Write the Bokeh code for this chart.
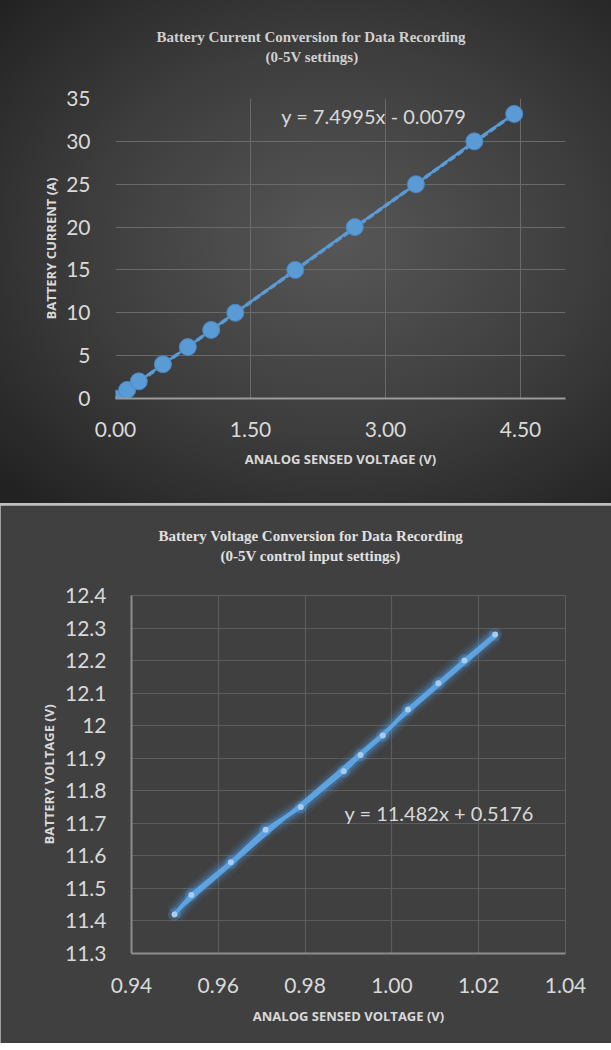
from bokeh.plotting import figure
from bokeh.models import FixedTicker, Label, Title
from bokeh.layouts import column
from bokeh.embed import file_html
from bokeh.resources import INLINE

# ---------------- data: top chart ----------------
cur_volts = [0.0, 0.129, 0.259, 0.527, 0.804, 1.063, 1.331, 1.997, 2.659, 3.338, 3.987, 4.43]
cur_amps = [0, 1, 2, 4, 6, 8, 10, 15, 20, 25, 30, 33.2]
cur_slope = 7.4995
cur_intercept = -0.0079
cur_eq_text = "y = 7.4995x - 0.0079"
cur_title = ["Battery Current Conversion for Data Recording", "(0-5V settings)"]
cur_x_ticks = [0.0, 1.5, 3.0, 4.5]
cur_x_labels = ["0.00", "1.50", "3.00", "4.50"]
cur_y_ticks = [0, 5, 10, 15, 20, 25, 30, 35]
cur_y_labels = ["0", "5", "10", "15", "20", "25", "30", "35"]

# ---------------- data: bottom chart ----------------
bat_sensed = [0.9499, 0.9538, 0.9629, 0.9709, 0.9790, 0.9889, 0.9928, 0.9979,
              1.0037, 1.0107, 1.0167, 1.0238]
bat_volts = [11.42, 11.48, 11.58, 11.68, 11.75, 11.86, 11.91, 11.97,
             12.05, 12.13, 12.20, 12.28]
bat_slope = 11.482
bat_intercept = 0.5176
bat_eq_text = "y = 11.482x + 0.5176"
bat_title = ["Battery Voltage Conversion for Data Recording", "(0-5V control input settings)"]
bat_x_ticks = [0.94, 0.96, 0.98, 1.00, 1.02, 1.04]
bat_x_labels = ["0.94", "0.96", "0.98", "1.00", "1.02", "1.04"]
bat_y_ticks = [11.3, 11.4, 11.5, 11.6, 11.7, 11.8, 11.9, 12.0, 12.1, 12.2, 12.3, 12.4]
bat_y_labels = ["11.3", "11.4", "11.5", "11.6", "11.7", "11.8", "11.9", "12",
                "12.1", "12.2", "12.3", "12.4"]

BLUE = "#5b9bd5"
TXT = "#d9d9d9"
TICK_FONT = "Lato"
AX_FONT = "Open Sans"
TITLE_FONT = "Liberation Serif"


def style_axes(p, xt, xl, yt, yl):
    p.xaxis.ticker = FixedTicker(ticks=xt)
    p.yaxis.ticker = FixedTicker(ticks=yt)
    p.xaxis.major_label_overrides = dict(zip(xt, xl))
    p.yaxis.major_label_overrides = dict(zip(yt, yl))
    p.xgrid.ticker = FixedTicker(ticks=xt)
    p.ygrid.ticker = FixedTicker(ticks=yt)
    for ax in (p.xaxis, p.yaxis):
        ax.major_tick_line_color = None
        ax.minor_tick_line_color = None
        ax.major_label_text_font = TICK_FONT
        ax.major_label_text_font_size = "21px"
        ax.major_label_text_color = TXT
        ax.axis_label_text_font = AX_FONT
        ax.axis_label_text_font_style = "bold"
        ax.axis_label_text_font_size = "13px"
        ax.axis_label_text_color = TXT
    p.outline_line_color = None


def add_title(p, lines, offsets, color, spacer_color, spacer_standoff):
    # blank spacer nearest the frame keeps the two title lines up top
    p.add_layout(Title(text=" ", standoff=spacer_standoff, text_font_size="10px",
                       text_color=spacer_color), "above")
    # then the lower title line, then the upper one
    for txt, off in zip(reversed(lines), reversed(offsets)):
        p.add_layout(Title(text=txt, align="left", offset=off, standoff=2,
                           text_font=TITLE_FONT, text_font_style="bold",
                           text_font_size="15px", text_color=color), "above")


# ================= top figure =================
p1 = figure(frame_width=450, frame_height=300, x_range=(0, 5), y_range=(0, 35),
            output_backend="svg", toolbar_location=None,
            min_border_left=115, min_border_right=46,
            min_border_top=98, min_border_bottom=105)
p1.frame_align = False
p1.background_fill_alpha = 0
p1.border_fill_alpha = 0
p1.styles = {"background": "radial-gradient(ellipse 75% 70% at 55% 48%, #575757 0%, #3d3d3d 55%, #222222 100%)"}
style_axes(p1, cur_x_ticks, cur_x_labels, cur_y_ticks, cur_y_labels)
p1.xaxis.axis_label = "ANALOG SENSED VOLTAGE (V)"
p1.yaxis.axis_label = "BATTERY CURRENT (A)"
p1.xaxis.axis_line_color = "#9a9a9a"
p1.xaxis.axis_line_width = 2
p1.yaxis.axis_line_color = None
p1.xaxis.major_label_standoff = 17
p1.yaxis.major_label_standoff = 19
p1.xaxis.axis_label_standoff = 10
p1.yaxis.axis_label_standoff = 3
p1.grid.grid_line_color = "#6a6a6a"
p1.grid.grid_line_width = 1
add_title(p1, cur_title, [41, 150], "#d0d0d0", "#3a3a3a", 20)

tx = [min(cur_volts), max(cur_volts)]
ty = [cur_slope * v + cur_intercept for v in tx]
p1.line(cur_volts, cur_amps, line_color=BLUE, line_width=2.5)
p1.line(tx, ty, line_color=BLUE, line_width=3.5, line_dash="7 3")
p1.scatter(cur_volts, cur_amps, size=17, fill_color=BLUE, line_color="#4a88c2", line_width=1)

p1.add_layout(Label(x=2.87, y=33.0, text=cur_eq_text, text_font=TICK_FONT,
                    text_font_size="20px", text_color=TXT,
                    text_align="center", text_baseline="middle"))

# ================= bottom figure =================
p2 = figure(frame_width=434, frame_height=358, x_range=(0.94, 1.04), y_range=(11.3, 12.4),
            output_backend="svg", toolbar_location=None,
            min_border_left=131, min_border_right=46,
            min_border_top=90, min_border_bottom=90)
p2.frame_align = False
p2.background_fill_color = "#404040"
p2.border_fill_color = "#404040"
style_axes(p2, bat_x_ticks, bat_x_labels, bat_y_ticks, bat_y_labels)
p2.xaxis.axis_label = "ANALOG SENSED VOLTAGE (V)"
p2.yaxis.axis_label = "BATTERY VOLTAGE (V)"
p2.xaxis.axis_line_color = "#8c8c8c"
p2.yaxis.axis_line_color = "#8c8c8c"
p2.xaxis.axis_line_width = 2
p2.yaxis.axis_line_width = 2
p2.xaxis.major_label_standoff = 18
p2.yaxis.major_label_standoff = 19
p2.xaxis.axis_label_standoff = 11
p2.yaxis.axis_label_standoff = 4
p2.grid.grid_line_color = "#5c5c5c"
p2.grid.grid_line_width = 1.2
add_title(p2, bat_title, [27, 89], "#e0e0e0", "#404040", 18)

bx = [min(bat_sensed), max(bat_sensed)]
by = [bat_slope * v + bat_intercept for v in bx]
for w, a in [(20, 0.08), (14, 0.15), (9, 0.25)]:
    p2.line(bat_sensed, bat_volts, line_color="#4fa3f0", line_width=w, line_alpha=a)
p2.line(bx, by, line_color="#62a6e4", line_width=3, line_alpha=0.9)
p2.line(bat_sensed, bat_volts, line_color="#5ea3e2", line_width=4)
p2.scatter(bat_sensed, bat_volts, size=13, fill_color="#4fa3f0", fill_alpha=0.25, line_color=None)
p2.scatter(bat_sensed, bat_volts, size=6, fill_color="#a9cbee", line_color=None)

p2.add_layout(Label(x=1.0109, y=11.731, text=bat_eq_text, text_font=TICK_FONT,
                    text_font_size="20px", text_color=TXT,
                    text_align="center", text_baseline="middle"))

layout = column(p1, p2, spacing=2, styles={"background-color": "#bfbfbf"})
open("out.html", "w").write(file_html(layout, INLINE))
